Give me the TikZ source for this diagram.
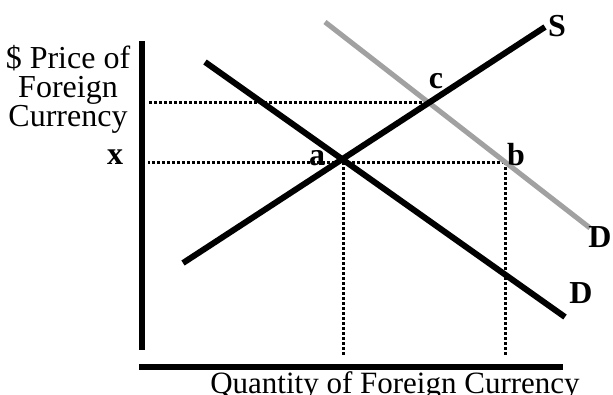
\documentclass[tikz,border=0pt]{standalone}
\usepackage{fontspec}
\setmainfont{Liberation Serif}

\begin{document}
\begin{tikzpicture}[x=0.75pt,y=-0.75pt,font=\fontsize{23.25}{21.75}\selectfont,
  curve/.style={line width=4.5pt},
  shifted/.style={line width=3.8pt,draw=black!37},
  guide/.style={line width=2.25pt,dash pattern=on 2.25pt off 1.5pt},
  tag/.style={font=\fontsize{24}{24}\selectfont\bfseries,inner sep=0pt}]
\useasboundingbox (0,0) rectangle (613,394);
  \coordinate (ytop) at (142,41);
  \coordinate (ybot) at (142,350);
  \coordinate (xleft) at (139,367);
  \coordinate (xright) at (563,367);
  \coordinate (gx) at (148,0);
  \coordinate (gy) at (0,355);
  \coordinate (a) at (343,162);
  \coordinate (b) at (505,162);
  \coordinate (c) at (427,102);
  \coordinate (sbot) at (183,263);
  \coordinate (stop) at (545,27);
  \coordinate (dtop) at (205,62);
  \coordinate (dbot) at (565,317);
  \coordinate (dtwotop) at (325,22);
  \coordinate (dtwobot) at (590,228);
  \draw[curve] (ytop)--(ybot);
  \draw[curve] (xleft)--(xright);
  \draw[guide] (c)--(c -| gx);
  \draw[guide] (b)--(b -| gx);
  \draw[guide] (a)--(a |- gy);
  \draw[guide] (b)--(b |- gy);
  \draw[shifted] (dtwotop)--(dtwobot);
  \draw[curve] (dtop)--(dbot);
  \draw[curve] (sbot)--(stop);
  \node[tag] (lS) at (557,26) {S};
  \node[tag] (lc) at (436,81) {c};
  \node[tag,anchor=base] (la) at (317,165) {a};
  \node[tag,anchor=base] (lb) at (516,165) {b};
  \node[tag] (lD) at (581,293) {D};
  \node[tag] (lDtwo) at (600,237) {D};
  \node[tag,anchor=base] (lx) at (115,164) {x};
  \node[align=center,anchor=north,inner sep=0pt,font=\fontsize{24}{21.75}\selectfont]
    (ylab) at (68,45) {\$ Price of\\Foreign\\Currency};
  \node[anchor=base,inner sep=0pt] (xlab) at (395,393) {Quantity of Foreign Currency};
\end{tikzpicture}
\end{document}
